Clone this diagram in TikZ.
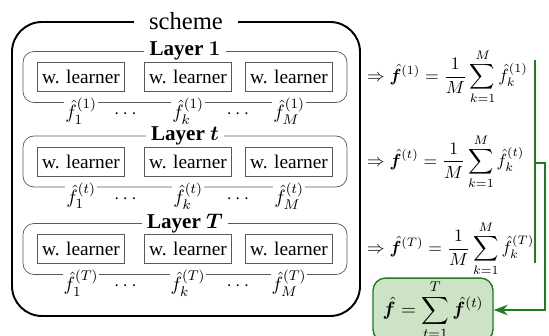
\documentclass[tikz,border=0pt]{standalone}
\usepackage{amsmath}
\usepackage{fontspec}
\setmainfont{Liberation Serif}
\usepackage{bm}
\usetikzlibrary{positioning,arrows.meta,calc}
\definecolor{SumGreen}{RGB}{30,125,30}
\definecolor{SumFill}{RGB}{204,227,198}
\definecolor{BoxGray}{RGB}{90,90,90}

\begin{document}
\begin{tikzpicture}[every node/.style={font=\fontsize{11}{13}\selectfont},
  learner/.style={draw=BoxGray, minimum width=1.74cm, minimum height=0.58cm, inner sep=1pt},
  layerbox/.style={draw=BoxGray, rounded corners=0.22cm, minimum width=6.48cm, minimum height=1.02cm},
  layertitle/.style={fill=white, inner xsep=3pt, inner ysep=0pt, font=\fontsize{12}{14}\selectfont\bfseries},
  flabel/.style={fill=white, anchor=north, inner sep=0.5pt, yshift=0.12cm},
  sumbox/.style={draw=SumGreen, fill=SumFill, thick, rounded corners=0.25cm, minimum width=2.4cm, inner xsep=4pt, inner ysep=1pt}]
  \useasboundingbox (0,0) rectangle (10.98,6.70);

  \node[draw, line width=1.1pt, rounded corners=0.6cm, minimum width=6.96cm, minimum height=5.88cm] (scheme) at (3.72,3.32) {};
  \node[fill=white, inner xsep=0.3cm, inner ysep=1pt, font=\fontsize{14}{16}\selectfont] (schemetitle) at (scheme.north) {scheme};

  % layer frames first, so the labels below them stay on top
  \foreach \n/\y in {1/5.16, t/3.47, T/1.72} {
    \node[layerbox] (layer\n) at (3.70,\y) {};
    \node[layertitle] (title\n) at (layer\n.north) {Layer $\bm{\n}$};
  }

  \foreach \n/\y in {1/5.16, t/3.47, T/1.72} {
    \node[learner] (w\n1) at (1.62,\y) {w. learner};
    \node[learner] (w\n2) at (3.76,\y) {w. learner};
    \node[learner] (w\n3) at (5.78,\y) {w. learner};
    \node[flabel] (f\n1) at (w\n1 |- layer\n.south) {$\hat f_1^{(\n)}$};
    \node[flabel] (f\n2) at (w\n2 |- layer\n.south) {$\hat f_k^{(\n)}$};
    \node[flabel] (f\n3) at (w\n3 |- layer\n.south) {$\hat f_M^{(\n)}$};
    \node[yshift=-0.06cm] (dots\n1) at ($(f\n1)!0.43!(f\n2)$) {$\cdots$};
    \node[yshift=-0.06cm] (dots\n2) at ($(f\n2)!0.51!(f\n3)$) {$\cdots$};
    \node[anchor=west, inner sep=1pt, font=\fontsize{10}{12}\selectfont] (eq\n) at (7.30,\y) {$\displaystyle \Rightarrow \hat{\bm f}^{(\n)} = \frac{1}{M}\sum_{k=1}^{M} \hat f_k^{(\n)}$};
  }

  \node[sumbox] (total) at (8.66,0.50) {$\displaystyle \hat{\bm f} = \sum_{t=1}^{T} \hat{\bm f}^{(t)}$};

  \coordinate (brtop) at (10.70,5.50);
  \coordinate (brbot) at (10.70,1.44);
  \coordinate (brmid) at (10.70,3.44);
  \draw[SumGreen, line width=1.1pt] (brtop) -- (brbot);
  \draw[-{Stealth}, SumGreen, line width=1.1pt] (brmid) -- ++(0.2,0) |- (total);
\end{tikzpicture}
\end{document}
